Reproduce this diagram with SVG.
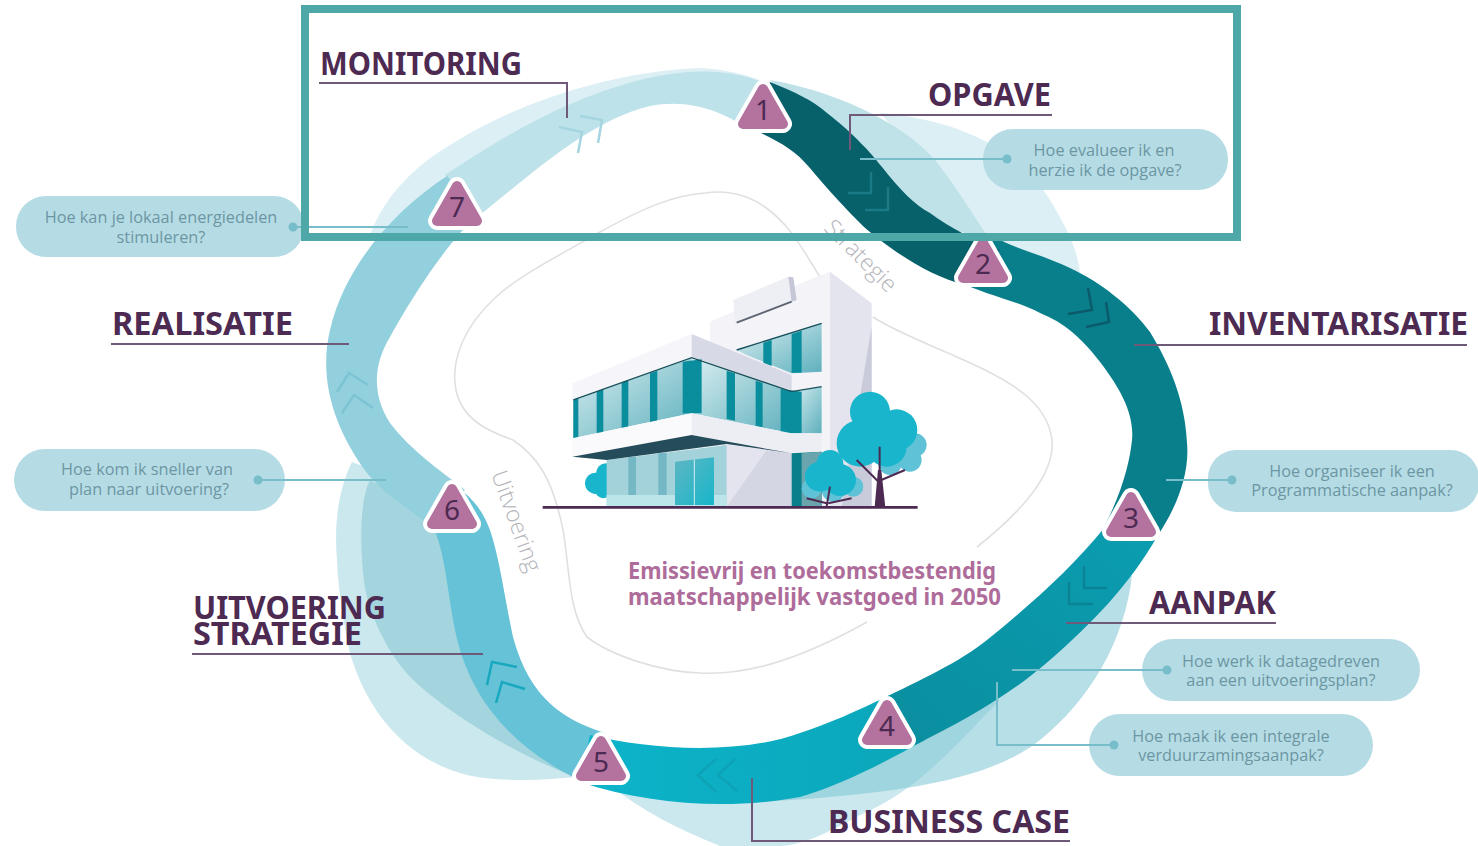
<svg xmlns="http://www.w3.org/2000/svg" xmlns:xlink="http://www.w3.org/1999/xlink" width="1478" height="846" viewBox="0 0 1478 846">
<style>
.lab{font-family:"Noto Sans","Liberation Sans",sans-serif;font-weight:700;font-size:32px;fill:#4d2a52}
.q{font-family:"Open Sans","Noto Sans",sans-serif;font-size:16.3px;fill:#6d96a3;text-anchor:middle}
.bub{fill:#b5dce5}
.num{font-family:"Noto Sans","Liberation Sans",sans-serif;font-size:28px;fill:#4d2a52;text-anchor:middle}
.lead{fill:none;stroke:#6e5a78;stroke-width:2}
.tl{fill:none;stroke:#78bdca;stroke-width:2}
.dot{fill:#78bdca}
.chev{fill:none;stroke-width:2.5}
.tw{fill:#fff;stroke:#fff;stroke-width:18;stroke-linejoin:round}
.tp{fill:#b4739f;stroke:#b4739f;stroke-width:10;stroke-linejoin:round}
.side{font-family:"Open Sans","Noto Sans",sans-serif;font-size:23px;font-weight:300;fill:#b4b4ba}
.head{font-family:"Noto Sans","Liberation Sans",sans-serif;font-weight:700;font-size:23px;fill:#ae6c9a}
</style>
<defs>
<linearGradient id="gw" x1="0" y1="0" x2="1" y2="1"><stop offset="0" stop-color="#d9eef1"/><stop offset="1" stop-color="#5eb0bd"/></linearGradient>
<linearGradient id="gd" x1="0" y1="0" x2="1" y2="1"><stop offset="0" stop-color="#5fb6c3"/><stop offset="1" stop-color="#17b6ca"/></linearGradient>
<linearGradient id="g45" x1="0" y1="0" x2="1" y2="0"><stop offset="0" stop-color="#0cb4ca"/><stop offset="1" stop-color="#0ba6ba"/></linearGradient>
<linearGradient id="g34" x1="0" y1="1" x2="1" y2="0"><stop offset="0" stop-color="#0a8e9e"/><stop offset="1" stop-color="#0b9db1"/></linearGradient>
<g id="tri"><path class="tw" d="M0-21 20 14H-20Z"/><path class="tp" d="M0-21 20 14H-20Z"/></g>
</defs>

<g id="backdrop">
<path fill="#dceff4" d="M880 113C960 120 1020 150 1050 200C1068 230 1078 250 1080 275L1060 290L985 235Z"/>
<path fill="#bfe2e9" d="M770 80C830 90 900 120 935 160C955 185 970 210 990 240L900 215Z"/>
<path fill="#dceff4" d="M370 235C385 195 415 165 455 142C505 110 600 72 700 68C730 70 750 75 770 85L650 92C590 105 500 150 460 190L400 260Z"/>
<path fill="#cbe8ee" d="M352 462C338 490 334 525 337 560C338 590 345 630 350 653C365 705 400 755 460 773C490 782 540 782 590 775L450 600L400 480Z"/>
<path fill="#a4d5df" d="M370 480C360 500 360 540 363 573C366 610 385 645 400 665C425 700 520 760 590 782L480 650L440 520Z"/>
<path fill="#cbe8ee" d="M1000 700C960 740 920 790 860 815C830 832 800 846 780 846L720 846C680 830 640 810 610 785L800 770Z"/>
<path fill="#7cc5d3" fill-opacity=".55" d="M1132 575C1125 640 1090 700 1040 740C990 780 900 795 740 803L800 780Z"/>
<path fill="none" stroke="#e0e0e3" stroke-width="1.6" d="M820 277C800 245 790 225 765 207C745 193 725 190 705 193C675 195 645 207 600 232C555 258 520 275 496 297C465 325 450 360 456 390C462 420 490 432 513 440C535 455 552 475 563 530C570 570 568 610 587 637C610 655 660 672 700 673C740 675 790 665 867 622"/>
<path fill="none" stroke="#e0e0e3" stroke-width="1.6" d="M977 547C1030 505 1055 470 1052 440C1048 405 1015 385 985 370C950 352 900 335 873 317"/>
</g>

<g id="ring">
<path fill="#bde2ea" d="M445 175C490 145 560 100 640 80C690 68 730 68 770 85L752 132C725 112 690 98 650 106C590 120 530 175 480 215Z"/>
<path fill="#93d0de" d="M447 176C395 210 345 265 330 330C318 380 335 430 367 473C385 495 410 510 430 525L465 490C440 470 410 450 390 423C372 395 373 365 390 337C405 310 440 250 480 212Z"/>
<path fill="#66c2d6" d="M432 525C445 550 447 590 455 630C468 695 510 750 590 785L605 733C565 720 530 700 513 637C505 600 500 560 490 530C483 512 475 500 455 485Z"/>
<path fill="url(#g45)" d="M590 735C650 750 740 755 800 733C830 723 855 712 890 695L925 740C880 765 840 785 800 797C730 810 650 805 580 782Z"/>
<path fill="url(#g34)" d="M880 700C920 680 960 662 987 640C1030 605 1070 570 1105 527L1158 535C1130 585 1090 625 1050 660C1010 695 965 720 915 745Z"/>
<path fill="#0a7f8c" d="M955 280C985 295 1015 300 1040 313C1065 323 1080 338 1092 352C1115 380 1135 410 1132 440C1130 460 1123 490 1105 525L1158 535C1175 510 1190 475 1187 443C1185 400 1170 365 1150 332C1130 305 1100 282 1070 268C1045 256 1020 250 1000 240L975 235Z"/>
<path fill="#07616b" d="M770 82C795 92 812 100 827 113C855 135 870 152 882 167C900 190 915 205 930 213C950 228 975 240 1000 250L965 285C925 275 885 245 864 227C845 208 830 192 809 167C795 150 780 142 755 130Z"/>
<path class="chev" stroke="#a5d5e0" d="M559 127 582 132 578 153M580 116 602 120 598 143"/>
<path class="chev" stroke="#1a7a85" d="M848 193H871V172M865 210H888V187"/>
<path class="chev" stroke="#0b5c6a" d="M1068 314 1092 310 1088 288M1086 327 1109 322 1106 302"/>
<path class="chev" stroke="#0a8494" d="M1084 566V588H1107M1069 582V604H1093"/>
<path class="chev" stroke="#0ea2b6" d="M716 759 698 775 716 792M735 759 718 775 737 791"/>
<path class="chev" stroke="#19a9bf" d="M517 667 492 662 487 685M525 689 502 682 496 703"/>
<path class="chev" stroke="#7cc4d3" d="M337 392 349 373 368 385M342 413 354 395 373 408"/>
</g>

<g id="building" transform="translate(540 260) scale(.3333)">
<path fill="#e3e4ee" d="M870 35 995 130V740H870Z"/>
<path fill="#c9cbda" d="M995 200V740H905Z"/>
<path fill="#f3f3f8" d="M510 185 580 155 770 75 870 35V740H510Z"/>
<path fill="#eeeef5" d="M580 120 745 50 770 120 585 190Z"/>
<path fill="#c5c7d6" d="M745 50 760 52 770 120 755 125Z"/>
<path fill="none" stroke="#5d6472" stroke-width="6" d="M590 188 755 125"/>
<path fill="url(#gw)" d="M590 270 845 190V335L755 340 620 285Z"/>
<path fill="#0a8e9e" d="M670 248 695 240V318L670 308ZM755 222 785 212V338H755Z"/>
<path fill="url(#gw)" d="M755 395 845 380V520H755Z"/>
<path fill="#f6f6fa" d="M97 370 455 222V290L97 420Z"/>
<path fill="#d8d9e6" d="M455 222 755 345V392L455 290Z"/>
<path fill="url(#gw)" d="M100 420 455 295V460L100 535Z"/>
<path fill="url(#gw)" d="M455 295 755 395V520L455 460Z"/>
<path fill="#0a8e9e" d="M100 420 115 415V532L100 535ZM170 395 190 388V518L170 522ZM245 368 265 360V500L245 504ZM330 340 352 332V482L330 487ZM428 305 485 298V460L428 460ZM560 332 585 340V482L560 477ZM647 362 668 369V502L647 498ZM722 387 785 395V520L722 520Z"/>
<path fill="none" stroke="#17505c" stroke-width="4" d="M100 420 455 293 755 395 845 380M590 270 845 190"/>
<path fill="#fafafc" d="M97 535 455 460V525L97 590Z"/>
<path fill="#eceef4" d="M455 460 755 520 845 520V575L755 578 455 525Z"/>
<path fill="#d4d6e3" d="M560 555 755 580V740H560Z"/>
<path fill="#e3e4ee" d="M560 555 680 570 560 740Z"/>
<g fill="#19b5cc"><circle cx="167" cy="670" r="32"/><circle cx="198" cy="640" r="30"/><circle cx="190" cy="690" r="25"/></g>
<path fill="#a3d2da" d="M200 600 560 555V740H200Z"/>
<path fill="#73b8c4" d="M265 592 288 590V740H265ZM355 580 380 578V740H355Z"/>
<path fill="#bce5ea" d="M200 705H560V740H200Z"/>
<path fill="url(#gd)" d="M405 605 522 592V735H405Z"/>
<path fill="none" stroke="#d4eef1" stroke-width="3" d="M463 598V735"/>
<path fill="#244c5a" d="M97 590 455 525 755 580 560 552 200 600Z"/>
<path fill="#0a7f8c" d="M755 580 845 575V740H755Z"/>
<path fill="#6aa5ad" d="M785 580 845 575V740H785Z"/>
<g fill="#5fc2d6"><circle cx="1125" cy="555" r="35"/><circle cx="1110" cy="600" r="35"/><circle cx="1050" cy="610" r="35"/><circle cx="815" cy="685" r="30"/><circle cx="880" cy="690" r="35"/><circle cx="940" cy="680" r="30"/></g>
<g fill="#19b5cc"><circle cx="990" cy="455" r="60"/><circle cx="1070" cy="510" r="62"/><circle cx="960" cy="550" r="70"/><circle cx="1040" cy="560" r="60"/><circle cx="1000" cy="510" r="50"/><circle cx="870" cy="610" r="40"/><circle cx="840" cy="650" r="45"/><circle cx="900" cy="660" r="48"/></g>
<path fill="#4d2a52" d="M1004 742 1014 630H1024L1036 742Z"/>
<path fill="none" stroke="#4d2a52" stroke-width="6" d="M1020 670 950 600M1024 660 1095 630M1019 640V560M860 740 870 680M860 730 800 715M865 730 935 715"/>
<path fill="none" stroke="#4d2a52" stroke-width="8" d="M8 742H1133"/>
</g>

<g id="connectors">
<path class="lead" d="M319 83H567V118"/>
<path class="lead" d="M1052 115H850V150"/>
<path class="lead" d="M1467 345H1134"/>
<path class="lead" d="M1276 623H1066"/>
<path class="lead" d="M1070 841H752V778"/>
<path class="lead" d="M192 654H483"/>
<path class="lead" d="M111 344H349"/>
<g id="bubbles-back">
<rect class="bub" x="983" y="129" width="245" height="61" rx="30"/>
<rect class="bub" x="16" y="196" width="288" height="61" rx="30"/>
<rect class="bub" x="14" y="449" width="271" height="62" rx="31"/>
<rect class="bub" x="1208" y="450" width="271" height="62" rx="28"/>
<rect class="bub" x="1142" y="639" width="278" height="62" rx="31"/>
<rect class="bub" x="1089" y="714" width="284" height="62" rx="31"/>
</g>
<path class="tl" d="M1007 159H860"/><circle class="dot" cx="1007" cy="159" r="4.5"/>
<path class="tl" d="M293 227H408"/><circle class="dot" cx="293" cy="227" r="4.5"/>
<path class="tl" d="M258 480H386"/><circle class="dot" cx="258" cy="480" r="4.5"/>
<path class="tl" d="M1232 480H1166"/><circle class="dot" cx="1232" cy="480" r="4.5"/>
<path class="tl" d="M1167 670H1012"/><circle class="dot" cx="1167" cy="670" r="4.5"/>
<path class="tl" d="M1114 745H997V682"/><circle class="dot" cx="1114" cy="745" r="4.5"/>
</g>

<g id="node-1"><use xlink:href="#tri" href="#tri" x="763" y="110"/><text class="num" x="763" y="120">1</text></g>
<g id="node-2"><use xlink:href="#tri" href="#tri" x="983" y="264"/><text class="num" x="983" y="274">2</text></g>
<g id="node-3"><use xlink:href="#tri" href="#tri" x="1131" y="518"/><text class="num" x="1131" y="528">3</text></g>
<g id="node-4"><use xlink:href="#tri" href="#tri" x="887" y="726"/><text class="num" x="887" y="736">4</text></g>
<g id="node-5"><use xlink:href="#tri" href="#tri" x="601" y="762"/><text class="num" x="601" y="772">5</text></g>
<g id="node-6"><use xlink:href="#tri" href="#tri" x="452" y="510"/><text class="num" x="452" y="520">6</text></g>
<g id="node-7"><use xlink:href="#tri" href="#tri" x="457" y="207"/><text class="num" x="457" y="217">7</text></g>

<g id="labels">
<text class="lab" x="320" y="75" textLength="202" lengthAdjust="spacingAndGlyphs">MONITORING</text>
<text class="lab" x="928" y="106" textLength="123" lengthAdjust="spacingAndGlyphs">OPGAVE</text>
<text class="lab" x="1209" y="335" textLength="259" lengthAdjust="spacingAndGlyphs">INVENTARISATIE</text>
<text class="lab" x="1149" y="614" textLength="127" lengthAdjust="spacingAndGlyphs">AANPAK</text>
<text class="lab" x="828" y="833" textLength="242" lengthAdjust="spacingAndGlyphs">BUSINESS CASE</text>
<text class="lab" x="112" y="335" textLength="181" lengthAdjust="spacingAndGlyphs">REALISATIE</text>
<text class="lab" x="193" y="619" textLength="193" lengthAdjust="spacingAndGlyphs">UITVOERING</text>
<text class="lab" x="193" y="645" textLength="169" lengthAdjust="spacingAndGlyphs">STRATEGIE</text>
<text class="q" x="1104" y="156">Hoe evalueer ik en</text><text class="q" x="1105" y="176">herzie ik de opgave?</text>
<text class="q" x="161" y="223">Hoe kan je lokaal energiedelen</text><text class="q" x="161" y="243">stimuleren?</text>
<text class="q" x="147" y="475">Hoe kom ik sneller van</text><text class="q" x="149" y="495">plan naar uitvoering?</text>
<text class="q" x="1352" y="477">Hoe organiseer ik een</text><text class="q" x="1352" y="496">Programmatische aanpak?</text>
<text class="q" x="1281" y="667">Hoe werk ik datagedreven</text><text class="q" x="1281" y="686">aan een uitvoeringsplan?</text>
<text class="q" x="1231" y="742">Hoe maak ik een integrale</text><text class="q" x="1231" y="761">verduurzamingsaanpak?</text>
<text class="head" x="628" y="579" textLength="368" lengthAdjust="spacingAndGlyphs">Emissievrij en toekomstbestendig</text>
<text class="head" x="628" y="605" textLength="373" lengthAdjust="spacingAndGlyphs">maatschappelijk vastgoed in 2050</text>
<text class="side" transform="translate(823 229) rotate(45)">Strategie</text>
<text class="side" transform="translate(491 474) rotate(70)">Uitvoering</text>
</g>

<rect id="frame" x="305" y="9" width="932" height="228" fill="none" stroke="#4fa8a8" stroke-width="8"/>
</svg>
